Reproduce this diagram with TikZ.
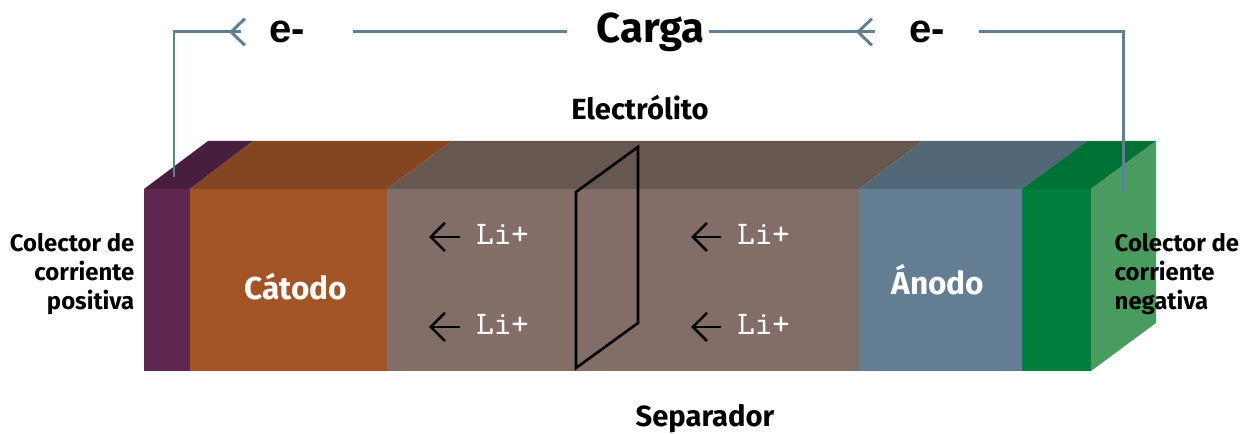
\documentclass[tikz,border=0pt]{standalone}
\usepackage{fontspec}
\setmainfont{Fira Sans}
\newfontfamily\wirefont{Liberation Sans}
\usetikzlibrary{arrows.meta}
\tikzset{
    wire/.style={draw=wire_blue,line width=0.85pt},
    wiretip/.style={wire,-{Straight Barb[length=3.9pt,width=7.6pt,line width=0.85pt]}},
    ion/.style={anchor=west,inner xsep=0.16cm,inner ysep=0pt,text height=6.2pt,text depth=1.9pt,text=white,font=\ttfamily\fontsize{9.4}{11}\selectfont},
    ionarrow/.style={draw=black,line width=0.75pt,-{Straight Barb[length=4pt,width=8pt,line width=0.75pt]}},
    electron/.style={inner sep=0pt,font=\wirefont\bfseries\fontsize{11.4}{13}\selectfont},
    caption/.style={inner sep=0pt,font=\bfseries\fontsize{8.3}{10}\selectfont},
    collector/.style={inner sep=0pt,align=#1,font=\bfseries\fontsize{6.8}{8.3}\selectfont},
    electrode/.style={inner sep=0pt,text=white,font=\bfseries\fontsize{9}{11}\selectfont},
}

\begin{document}
\begin{tikzpicture}
    \definecolor{cell_purple}{HTML}{5E2750}
    \definecolor{cell_purple_top}{HTML}{481E3E}
    \definecolor{cell_orange}{HTML}{A25426}
    \definecolor{cell_orange_top}{HTML}{844621}
    \definecolor{cell_grey}{HTML}{826E67}
    \definecolor{cell_grey_top}{HTML}{665850}
    \definecolor{cell_blue}{HTML}{637E92}
    \definecolor{cell_blue_top}{HTML}{526878}
    \definecolor{cell_green}{HTML}{00803C}
    \definecolor{cell_green_top}{HTML}{007235}
    \definecolor{cell_green_side}{HTML}{4A9B60}
    \definecolor{wire_blue}{HTML}{5F7F93}
    %\draw[help lines] (0,0) grid (12.45,4.34);
    \useasboundingbox (0,0) rectangle (12.45,4.34);

    \path[fill=cell_purple] (1.44,0.63) rectangle (1.90,2.45);
    \path[fill=cell_orange] (1.90,0.63) rectangle (3.87,2.45);
    \path[fill=cell_grey] (3.87,0.63) rectangle (8.59,2.45);
    \path[fill=cell_blue] (8.59,0.63) rectangle (10.22,2.45);
    \path[fill=cell_green] (10.22,0.63) rectangle (10.91,2.45);
    \path[fill=cell_purple_top] (1.44,2.45) -- (2.08,2.93) -- (2.53,2.93) -- (1.90,2.45) -- cycle;
    \path[fill=cell_orange_top] (1.90,2.45) -- (2.53,2.93) -- (4.52,2.93) -- (3.87,2.45) -- cycle;
    \path[fill=cell_grey_top] (3.87,2.45) -- (4.52,2.93) -- (9.23,2.93) -- (8.59,2.45) -- cycle;
    \path[fill=cell_blue_top] (8.59,2.45) -- (9.23,2.93) -- (10.87,2.93) -- (10.22,2.45) -- cycle;
    \path[fill=cell_green_top] (10.22,2.45) -- (10.87,2.93) -- (11.56,2.93) -- (10.91,2.45) -- cycle;
    \path[fill=cell_green_side] (10.91,0.63) -- (11.56,1.11) -- (11.56,2.93) -- (10.91,2.45) -- cycle;

    \draw[black,line width=0.75pt] (5.76,2.42) -- (6.38,2.87) -- (6.38,1.11) -- (5.76,0.66) -- cycle;

    \node[electrode] (cathode) at (2.96,1.47) {Cátodo};
    \node[electrode] (anode) at (9.38,1.54) {Ánodo};
    \node[caption] (electrolyte) at (6.40,3.26) {Electrólito};
    \node[caption] (separator) at (7.05,0.15) {Separador};
    \node[collector=right,anchor=east] (collector_pos) at (1.35,1.60) {Colector de\\corriente\\positiva};
    \node[collector=left,anchor=west] (collector_neg) at (11.14,1.60) {Colector de\\corriente\\negativa};

    \node[ion] (ion0) at (4.60,1.97) {Li+};
    \node[ion] (ion1) at (4.60,1.07) {Li+};
    \node[ion] (ion2) at (7.21,1.97) {Li+};
    \node[ion] (ion3) at (7.21,1.07) {Li+};
    \coordinate (ion0_tip) at (4.29,1.97);
    \coordinate (ion1_tip) at (4.29,1.07);
    \coordinate (ion2_tip) at (6.91,1.97);
    \coordinate (ion3_tip) at (6.91,1.07);
    \draw[ionarrow] (ion0.west) -- (ion0_tip);
    \draw[ionarrow] (ion1.west) -- (ion1_tip);
    \draw[ionarrow] (ion2.west) -- (ion2_tip);
    \draw[ionarrow] (ion3.west) -- (ion3_tip);

    \node[inner sep=0pt,minimum width=1.40cm,font=\bfseries\fontsize{11.9}{14}\selectfont] (load) at (6.38,4.02) {\hspace*{0.25cm}Carga};
    \node[electron,minimum width=1.10cm] (electron0) at (2.97,4.02) {e-\hspace*{0.20cm}};
    \node[electron,minimum width=1.02cm] (electron1) at (9.27,4.02) {e-};

    \coordinate (wire_left_end) at (1.74,2.57);
    \coordinate (wire_left_corner) at (1.74,4.02);
    \coordinate (wire_left_tip) at (2.29,4.02);
    \coordinate (wire_right_end) at (11.23,2.43);
    \coordinate (wire_right_corner) at (11.23,4.02);
    \coordinate (wire_mid_tip) at (8.56,4.02);
    \draw[wire] (electron0.west) -- (wire_left_corner) -- (wire_left_end);
    \draw[wiretip] (electron0.west) -- (wire_left_tip);
    \draw[wire] (load.west) -- (electron0.east);
    \draw[wire] (load.east) -- (electron1.west);
    \draw[wiretip] (electron1.west) -- (wire_mid_tip);
    \draw[wire] (electron1.east) -- (wire_right_corner) -- (wire_right_end);
\end{tikzpicture}
\end{document}
